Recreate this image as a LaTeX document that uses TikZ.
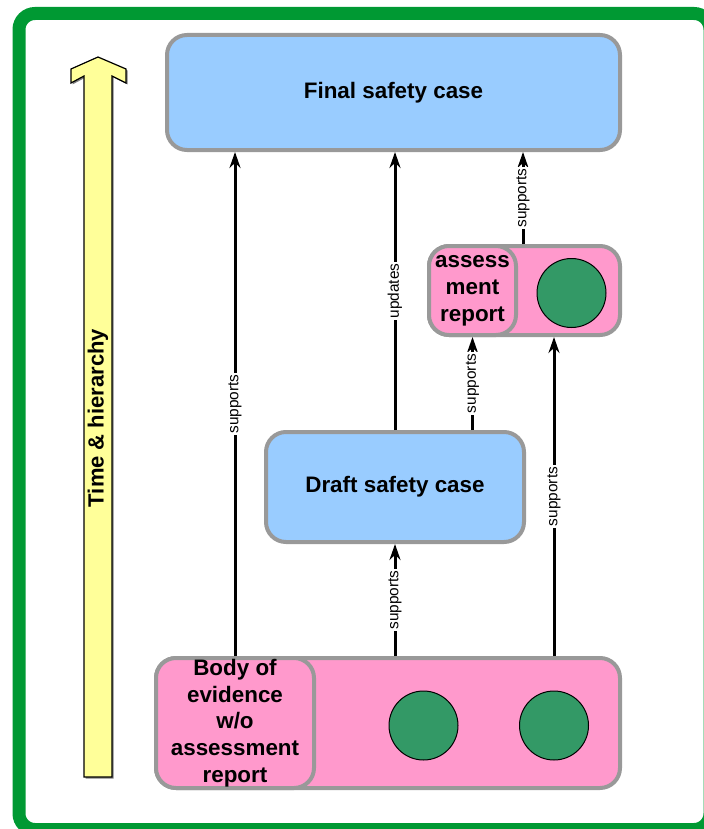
\documentclass[tikz,border=0pt]{standalone}
\usepackage{fontspec}
\setmainfont{Liberation Sans}
\usepackage{tikz}
\usetikzlibrary{arrows.meta,positioning}
\definecolor{framegreen}{HTML}{009933}
\definecolor{boxgray}{HTML}{999999}
\definecolor{caseblue}{HTML}{99CCFF}
\definecolor{evipink}{HTML}{FF99CC}
\definecolor{dotgreen}{HTML}{339966}
\definecolor{timeyellow}{HTML}{FFFF99}

\begin{document}
\begin{tikzpicture}[x=0.5pt,y=-0.5pt,
    box/.style={draw=boxgray, line width=2pt, rounded corners=10pt, inner sep=0pt,
        align=center, font=\bfseries\fontsize{11.2}{13.4}\selectfont},
    dot/.style={circle, draw=black, line width=0.5pt, fill=dotgreen, minimum size=34.5pt, inner sep=0pt},
    supp/.style={-{Stealth[length=8pt,width=5.5pt]}, line width=1.5pt},
    lbl/.style={fill=white, rotate=90, inner sep=0.8pt, font=\fontsize{7.7}{9}\selectfont}]
    \useasboundingbox (0,0) rectangle (704,829);
    \clip (0,0) rectangle (704,829);
    % frame
    \draw [framegreen, line width=6.5pt, rounded corners=8pt] (19,13.5) rectangle (710,829.5);
    % time arrow
    \fill [gray, shift={(1.5,1.5)}] (84,777) -- (84,76) -- (71,83) -- (71,69) -- (98,57) -- (126,69) -- (126,83) -- (112,76) -- (112,777) -- cycle;
    \draw [fill=timeyellow, line width=0.6pt] (84,777) -- (84,76) -- (71,83) -- (71,69) -- (98,57) -- (126,69) -- (126,83) -- (112,76) -- (112,777) -- cycle;
    \node [rotate=90, font=\bfseries\fontsize{11}{13}\selectfont] (timelbl) at (98,418) {Time \& hierarchy};
    % safety cases
    \node [box, fill=caseblue, minimum width=226.5pt, minimum height=57.5pt] (final) at (393.5,92.5) {Final safety case};
    \node [box, fill=caseblue, minimum width=129pt, minimum height=55pt] (draft) at (395,487) {Draft safety case};
    % assessment report
    \node [box, fill=evipink, minimum width=95.5pt, minimum height=44.5pt] (assess) at (524.5,290.5) {};
    \node [box, fill=evipink, minimum width=43.5pt, minimum height=44.5pt] (asstxt) at (472.5,290.5) {assess\\ment\\report};
    \node [dot] (c1) at (571.5,293) {};
    % body of evidence
    \node [box, fill=evipink, minimum width=232pt, minimum height=65pt] (body) at (388,723) {};
    \node [box, fill=evipink, minimum width=79pt, minimum height=65pt] (bodytxt) at (235,723) {Body of\\evidence\\w/o\\assessment\\report};
    \node [dot] (c2) at (423.5,725.5) {};
    \node [dot] (c3) at (554,725.5) {};
    % links
    \coordinate (atop) at ([xshift=2.5pt]asstxt.north east);
    \draw [supp] (bodytxt.north) -- (bodytxt.north |- final.south) node [lbl, midway] {supports};
    \draw [supp] (draft.south |- body.north) -- (draft.south) node [lbl, midway] {supports};
    \draw [supp] (draft.north) -- (draft.north |- final.south) node [lbl, midway] {updates};
    \draw [supp] (asstxt.south |- draft.north) -- (asstxt.south) node [lbl, midway] {supports};
    \draw [supp] (atop) -- (atop |- final.south) node [lbl, midway] {supports};
    \draw [supp] (c3 |- body.north) -- (c3 |- assess.south) node [lbl, midway] {supports};
\end{tikzpicture}
\end{document}
